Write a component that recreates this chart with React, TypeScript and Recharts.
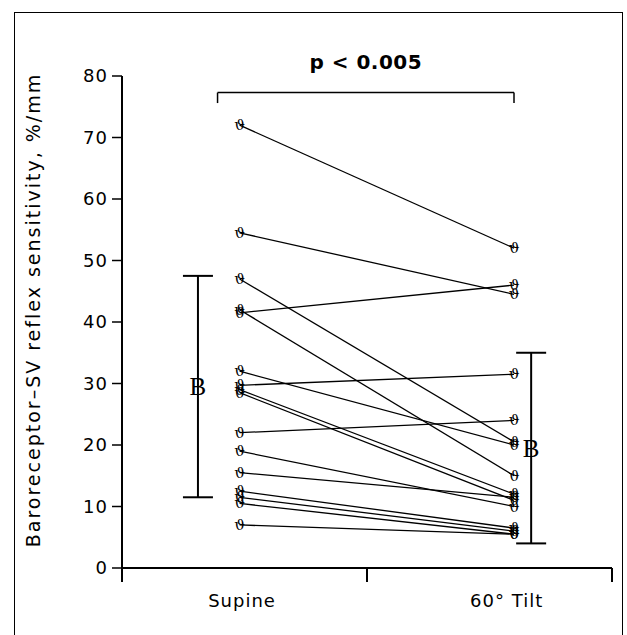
import { LineChart, Line, XAxis, YAxis, Scatter, ErrorBar, ReferenceLine } from "recharts";

// paired values per subject, %/mm
const SUPINE = [72, 54.5, 47, 42, 41.5, 32, 29.7, 29, 28.5, 22, 19, 15.5, 12.5, 11.5, 10.5, 7];
const TILT = [52, 44.5, 20.5, 15, 46, 20, 31.5, 12, 11, 24, 10, 11.5, 6.5, 6, 5.5, 5.5];
const CATEGORIES = ["Supine", "60° Tilt"];
const MEANS = [29.5, 19.5];
const SDS = [18, 15.5];
const Y_TICKS = [0, 10, 20, 30, 40, 50, 60, 70, 80];
const P_LABEL = "p < 0.005";
const Y_LABEL = "Baroreceptor–SV reflex sensitivity, %/mm";

// horizontal layout on a 0..2 axis
const POINT_X = [0.48, 1.6];
const LABEL_X = [0.49, 1.57];
const ERR_X = [0.31, 1.67];
const BRACKET = { y: 77.3, drop: 75.6 };

const FONT = "'DejaVu Sans', sans-serif";

const rows = POINT_X.map((x, c) => {
  const r: Record<string, number> = { x };
  SUPINE.forEach((v, i) => {
    r["s" + i] = c === 0 ? v : TILT[i];
  });
  return r;
});

const errData = MEANS.map((m, i) => ({ x: ERR_X[i], y: m, err: SDS[i] }));

const Theta = (p: any) => {
  if (p.cx == null) return null;
  return (
    <text x={p.cx} y={p.cy} textAnchor="middle" dominantBaseline="central"
      fontFamily="'DejaVu Serif', serif" fontSize={15} fill="#000">ϑ</text>
  );
};

const BMark = (p: any) => (
  <text x={p.cx} y={p.cy} textAnchor="middle" dominantBaseline="central"
    fontFamily="'Liberation Serif', serif" fontSize={25} fill="#000">B</text>
);

const XTick = (p: any) => {
  const v = p.payload.value;
  const i = LABEL_X.indexOf(v);
  if (i >= 0) {
    return (
      <text x={p.x} y={p.y + 39} textAnchor="middle" fontFamily={FONT} fontSize={18}
        letterSpacing={1} fill="#000">
        {CATEGORIES[i]}
      </text>
    );
  }
  return <line x1={p.x} x2={p.x} y1={p.y} y2={p.y + 14} stroke="#000" strokeWidth={2} />;
};

const YLabel = () => (
  <text transform="translate(40,310) rotate(-90)" textAnchor="middle" fontFamily={FONT}
    fontSize={19} letterSpacing={2} fill="#000">{Y_LABEL}</text>
);

export default function App() {
  return (
    <div style={{ position: "absolute", left: 0, top: 0, width: 627, height: 635, background: "#fff", overflow: "hidden" }}>
      <div style={{ position: "absolute", left: 14, top: 12, width: 607, height: 640, border: "1.5px solid #000" }} />
      <div style={{ position: "absolute", left: 0, top: 0 }}>
        <LineChart width={627} height={635} data={rows} margin={{ top: 76, right: 15, left: 0, bottom: 27 }}>
          <XAxis dataKey="x" type="number" domain={[0, 2]} ticks={[0, LABEL_X[0], 1, LABEL_X[1], 2]}
            interval={0} tickLine={false} tickSize={0} tickMargin={0} height={40}
            axisLine={{ stroke: "#000", strokeWidth: 2 }} tick={<XTick />} />
          <YAxis type="number" domain={[0, 80]} ticks={Y_TICKS} interval={0} width={122}
            tickSize={10} tickMargin={4}
            axisLine={{ stroke: "#000", strokeWidth: 2 }} tickLine={{ stroke: "#000", strokeWidth: 1.5 }}
            tick={{ fill: "#000", fontFamily: FONT, fontSize: 18, letterSpacing: 1 }}
            label={{ content: <YLabel /> }} />
          {SUPINE.map((_, i) => (
            <Line key={i} dataKey={"s" + i} stroke="#000" strokeWidth={1.3} dot={<Theta />}
              activeDot={false} isAnimationActive={false} />
          ))}
          <Scatter data={errData} dataKey="y" shape={<BMark />} isAnimationActive={false}>
            <ErrorBar dataKey="err" direction="y" width={15} stroke="#000" strokeWidth={2} isAnimationActive={false} />
          </Scatter>
          <ReferenceLine segment={[{ x: 0.39, y: BRACKET.y }, { x: POINT_X[1], y: BRACKET.y }]}
            stroke="#000" strokeWidth={1.5}
            label={{ value: P_LABEL, position: "top", offset: 24, fill: "#000", fontFamily: FONT,
              fontSize: 20, fontWeight: "bold", letterSpacing: 0.5 }} />
          <ReferenceLine segment={[{ x: 0.39, y: BRACKET.y }, { x: 0.39, y: BRACKET.drop }]} stroke="#000" strokeWidth={1.5} />
          <ReferenceLine segment={[{ x: POINT_X[1], y: BRACKET.y }, { x: POINT_X[1], y: BRACKET.drop }]} stroke="#000" strokeWidth={1.5} />
        </LineChart>
      </div>
    </div>
  );
}
